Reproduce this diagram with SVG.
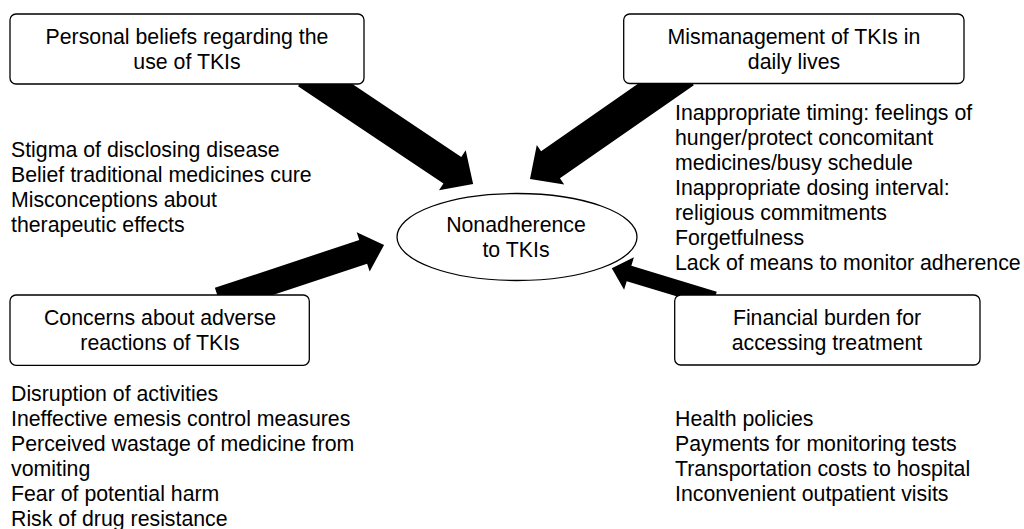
<svg xmlns="http://www.w3.org/2000/svg" width="1024" height="529" viewBox="0 0 1024 529">
<style>
text{font-family:"Liberation Sans",Arial,sans-serif;font-size:21.3px;fill:#000}
.c{text-anchor:middle}
.box{fill:#fff;stroke:#000;stroke-width:1.3}
.arr{fill:#000;stroke:none}
</style>
<rect width="1024" height="529" fill="#fff"/>
<g id="connectors">
<path class="arr" d="M0,-16H175V-24L200,0L175,24V16H0Z" transform="translate(306.9,72.9) rotate(33.78)"/>
<path class="arr" d="M0,-16.5H163.1V-24L188.1,0L163.1,24V16.5H0Z" transform="translate(684.4,71.6) rotate(145.18)"/>
<path class="arr" d="M0,-12.5H152.1V-20.6L174.1,0L152.1,20.6V12.5H0Z" transform="translate(218.8,299.7) rotate(-18.32)"/>
<path class="arr" d="M0,-8H89.2V-17L107.2,0L89.2,17V8H0Z" transform="translate(714.4,299.3) rotate(196.82)"/>
</g>
<g id="personal-beliefs">
<rect class="box" x="10" y="14" width="354" height="70" rx="6"/>
<text class="c" x="187" y="44">Personal beliefs regarding the</text>
<text class="c" x="187" y="69">use of TKIs</text>
</g>
<g id="mismanagement">
<rect class="box" x="623.7" y="14" width="340.3" height="69.5" rx="6"/>
<text class="c" x="794" y="44">Mismanagement of TKIs in</text>
<text class="c" x="794" y="69">daily lives</text>
</g>
<g id="concerns">
<rect class="box" x="10" y="295" width="299.3" height="70.3" rx="6"/>
<text class="c" x="160" y="325">Concerns about adverse</text>
<text class="c" x="160" y="350">reactions of TKIs</text>
</g>
<g id="financial">
<rect class="box" x="674.7" y="295" width="305.3" height="70" rx="6"/>
<text class="c" x="827" y="325">Financial burden for</text>
<text class="c" x="827" y="350">accessing treatment</text>
</g>
<g id="nonadherence">
<ellipse class="box" cx="517" cy="237" rx="120" ry="43.5"/>
<text class="c" x="516" y="232">Nonadherence</text>
<text class="c" x="516" y="257">to TKIs</text>
</g>
<g id="beliefs-list">
<text x="11" y="157">Stigma of disclosing disease</text>
<text x="11" y="182">Belief traditional medicines cure</text>
<text x="11" y="207">Misconceptions about</text>
<text x="11" y="232">therapeutic effects</text>
</g>
<g id="mismanagement-list">
<text x="675" y="120">Inappropriate timing: feelings of</text>
<text x="675" y="145">hunger/protect concomitant</text>
<text x="675" y="170">medicines/busy schedule</text>
<text x="675" y="195">Inappropriate dosing interval:</text>
<text x="675" y="220">religious commitments</text>
<text x="675" y="245">Forgetfulness</text>
<text x="675" y="270">Lack of means to monitor adherence</text>
</g>
<g id="concerns-list">
<text x="11" y="401">Disruption of activities</text>
<text x="11" y="426">Ineffective emesis control measures</text>
<text x="11" y="451">Perceived wastage of medicine from</text>
<text x="11" y="476">vomiting</text>
<text x="11" y="501">Fear of potential harm</text>
<text x="11" y="526">Risk of drug resistance</text>
</g>
<g id="financial-list">
<text x="675" y="426">Health policies</text>
<text x="675" y="451">Payments for monitoring tests</text>
<text x="675" y="476">Transportation costs to hospital</text>
<text x="675" y="501">Inconvenient outpatient visits</text>
</g>
</svg>
